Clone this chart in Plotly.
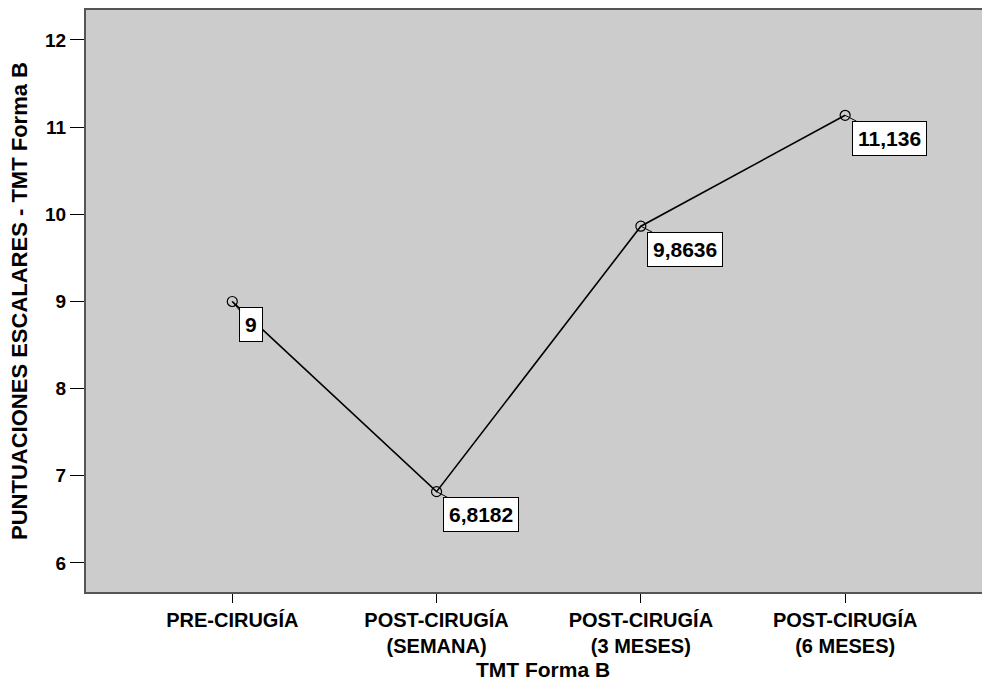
import plotly.graph_objects as go

categories = ["PRE-CIRUGÍA", "POST-CIRUGÍA<br>(SEMANA)", "POST-CIRUGÍA<br>(3 MESES)", "POST-CIRUGÍA<br>(6 MESES)"]
values = [9.0, 6.8182, 9.8636, 11.136]
value_labels = ["9", "6,8182", "9,8636", "11,136"]
label_offsets_x = [19, 44, 44, 44]
label_offsets_y = [23, 23, 23, 23]
y_ticks = [6, 7, 8, 9, 10, 11, 12]

FONT = "Liberation Sans, Arial, sans-serif"

fig = go.Figure()
fig.add_trace(go.Scatter(
    x=list(range(len(categories))), y=values,
    mode="lines+markers",
    line=dict(color="black", width=1.6),
    marker=dict(symbol="circle-open", size=10, color="black", line=dict(width=1.2)),
    showlegend=False, hoverinfo="skip",
))

for i, (v, t) in enumerate(zip(values, value_labels)):
    fig.add_annotation(
        x=i, y=v, xref="x", yref="y",
        text="<b>%s</b>" % t,
        showarrow=True, arrowhead=0, arrowwidth=1, arrowcolor="black",
        ax=label_offsets_x[i], ay=label_offsets_y[i],
        font=dict(family=FONT, size=21, color="black"),
        bgcolor="white", bordercolor="black", borderwidth=1, borderpad=5,
    )

fig.update_layout(
    width=1000, height=684,
    margin=dict(l=86, r=0, t=10, b=92),
    paper_bgcolor="white", plot_bgcolor="#cccccc",
    font=dict(family=FONT, color="black"),
    xaxis=dict(
        range=[-0.716, 3.758],
        tickmode="array", tickvals=list(range(len(categories))), ticktext=["<b>%s</b>" % c for c in categories],
        tickfont=dict(size=20, family=FONT),
        ticks="outside", ticklen=9, tickcolor="black", tickwidth=1,
        showgrid=False, zeroline=False,
        showline=True, linecolor="#555555", linewidth=2, mirror=True,
        title=dict(text="<b>TMT Forma B</b>", font=dict(size=21, family=FONT), standoff=6),
    ),
    yaxis=dict(
        range=[5.667, 12.344],
        tickmode="array", tickvals=y_ticks, ticktext=["<b>%d</b>" % t for t in y_ticks],
        tickfont=dict(size=19, family=FONT),
        ticks="outside", ticklen=14, tickcolor="black", tickwidth=1,
        showgrid=False, zeroline=False,
        showline=True, linecolor="#555555", linewidth=2,
        title=dict(text="<b>PUNTUACIONES ESCALARES - TMT Forma B</b>", font=dict(size=22, family=FONT), standoff=11),
    ),
)

fig.write_html(
    "out.html",
    config={"displayModeBar": False},
    post_script="document.body.style.margin='0';document.body.style.overflow='hidden';",
)
